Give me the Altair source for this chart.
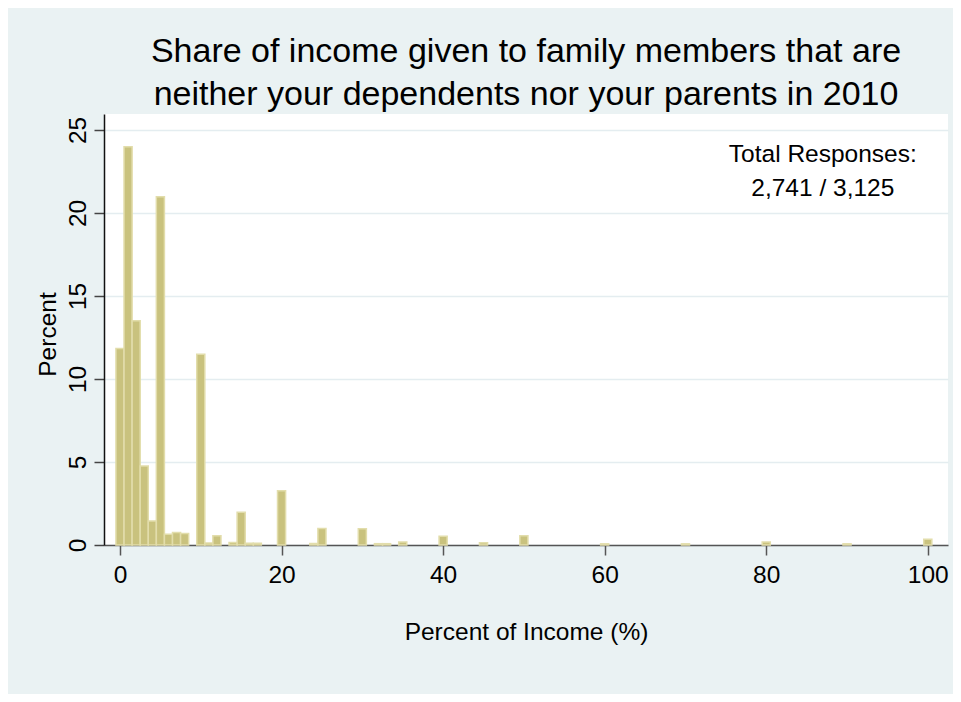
import altair as alt
import pandas as pd

# ---- data ----
income_pct = [0, 1, 2, 3, 4, 5, 6, 7, 8, 10, 11, 12, 14, 15, 16, 17, 20, 24, 25,
              30, 32, 33, 35, 40, 45, 50, 60, 70, 80, 90, 100]
percent = [11.83, 23.99, 13.5, 4.76, 1.45, 20.98, 0.64, 0.76, 0.70, 11.49, 0.12,
           0.56, 0.15, 1.98, 0.10, 0.10, 3.27, 0.09, 1.00, 0.98, 0.08, 0.08, 0.18,
           0.52, 0.13, 0.55, 0.07, 0.07, 0.18, 0.07, 0.35]
x_ticks = [0, 20, 40, 60, 80, 100]
y_ticks = [0, 5, 10, 15, 20, 25]
title_lines = ["Share of income given to family members that are",
               "neither your dependents nor your parents in 2010"]
note_text = "Total Responses:\n2,741 / 3,125"
note_x = [87.0]
note_y = [23.05]

df = pd.DataFrame({"value": income_pct, "pct": percent})
note_df = pd.DataFrame({"x": note_x, "y": note_y, "label": [note_text]})

FONT = "Liberation Sans"
xscale = alt.Scale(domain=[-1.98, 102.5], nice=False, zero=False)
yscale = alt.Scale(domain=[0, 25.96], nice=False, zero=True)

bars = (
    alt.Chart(df)
    .transform_calculate(lo="datum.value - 0.5", hi="datum.value + 0.5")
    .mark_bar(fill="#C9C27E", stroke="#E2DDAB", strokeWidth=1.5, cornerRadius=0)
    .encode(
        x=alt.X("lo:Q", scale=xscale,
                axis=alt.Axis(values=x_ticks, title="Percent of Income (%)",
                              grid=False, domainColor="#555555", domainWidth=1.5,
                              tickColor="#555555", tickWidth=1.5, tickSize=10,
                              labelFontSize=24.5, labelFont=FONT, labelColor="black",
                              labelBaseline="top", labelPadding=8,
                              labelFlush=False, labelOverlap=False,
                              titleFontSize=24.5, titleFont=FONT, titleFontWeight="normal",
                              titleColor="black", titleBaseline="alphabetic",
                              titleAlign="center", titleX=422, titleY=94)),
        x2="hi:Q",
        y=alt.Y("pct:Q", scale=yscale,
                axis=alt.Axis(values=y_ticks, title="Percent",
                              grid=True, gridColor="#E4EDF0", gridWidth=1.5,
                              domainColor="#111111", domainWidth=1.5,
                              tickColor="#444444", tickWidth=1.5, tickSize=10,
                              labelFontSize=24.5, labelFont=FONT, labelColor="black",
                              labelAngle=270, labelAlign="center",
                              labelBaseline="alphabetic", labelPadding=9,
                              labelFlush=False, labelOverlap=False,
                              titleFontSize=24.5, titleFont=FONT, titleFontWeight="normal",
                              titleColor="black", titleAngle=270, titleAlign="center",
                              titleBaseline="alphabetic", titleX=-49, titleY=220)),
        y2=alt.datum(0),
    )
)

note = (
    alt.Chart(note_df)
    .mark_text(lineBreak="\n", fontSize=24.5, font=FONT, color="black",
               align="center", baseline="alphabetic", lineHeight=33.4)
    .encode(x=alt.X("x:Q", scale=xscale), y=alt.Y("y:Q", scale=yscale),
            text="label:N")
)

chart = (
    alt.layer(bars, note)
    .properties(
        width=844, height=431,
        autosize=alt.AutoSizeParams(type="none"),
        padding={"left": 96, "top": 106, "right": 5, "bottom": 149},
        background="#EAF2F3",
        title=alt.TitleParams(text=title_lines, fontSize=34, font=FONT,
                              fontWeight="normal", color="black", lineHeight=43,
                              anchor="middle", offset=2),
    )
    .configure_view(stroke=None, fill="white")
)

chart.save("out.html", embed_options={"renderer": "svg", "actions": False})
